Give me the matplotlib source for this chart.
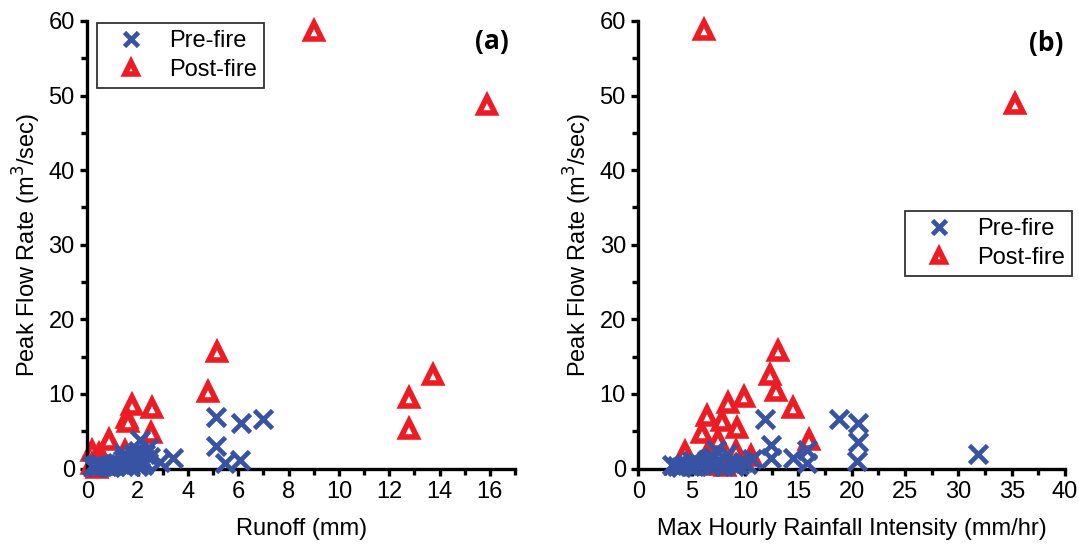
import numpy as np
import matplotlib.pyplot as plt
from matplotlib.ticker import MultipleLocator

plt.rcParams['font.family'] = ['Liberation Sans', 'DejaVu Sans']

BLUE = '#3953a4'
RED = '#ed1c24'

# Panel (a): runoff (mm) vs peak flow rate (m3/sec)
runoff_pre = [0.2, 0.3, 0.4, 0.5, 0.6, 0.8, 0.9, 1.0, 1.1, 1.2, 1.3, 1.4, 1.5,
              1.6, 1.7, 1.8, 1.9, 2.0, 2.1, 2.2, 2.3, 2.5, 1.45, 1.7, 2.0, 2.2,
              2.4, 2.9, 2.1, 3.4, 5.12, 5.12, 6.1, 7.0, 5.48, 6.05]
peak_pre_a = [0.3, 0.5, 0.2, 0.6, 0.3, 0.4, 0.2, 0.5, 0.3, 0.8, 0.6, 1.1, 1.5,
              0.9, 1.3, 1.9, 0.7, 2.3, 1.6, 1.0, 2.0, 1.5, 2.0, 0.4, 0.3, 0.5,
              2.7, 0.9, 3.8, 1.35, 6.85, 3.0, 6.1, 6.6, 0.8, 1.1]
runoff_post = [9.0, 15.9, 5.15, 4.78, 1.76, 2.57, 1.58, 1.62, 0.85, 2.52,
               12.8, 12.8, 13.76, 0.18, 0.45, 0.6, 1.5, 0.2, 0.35, 0.4]
peak_post_a = [58.7, 48.8, 15.6, 10.3, 8.5, 8.1, 6.8, 6.2, 3.8, 4.7,
               9.4, 5.3, 12.6, 2.3, 1.9, 1.4, 2.3, 0.6, 0.3, 0.1]

# Panel (b): max hourly rainfall intensity (mm/hr) vs peak flow rate
intensity_pre = [3.2, 3.6, 4.0, 4.4, 4.8, 5.2, 5.6, 6.0, 6.4, 6.8, 7.0, 7.3,
                 7.6, 8.0, 8.3, 8.6, 9.0, 9.4, 9.8, 10.2, 10.7, 11.86, 18.8,
                 20.6, 20.6, 20.45, 12.4, 12.4, 14.5, 15.8, 15.8, 31.8, 7.3,
                 6.6, 5.0]
peak_pre_b = [0.5, 0.3, 0.2, 0.6, 0.4, 0.3, 0.8, 0.5, 1.1, 0.3, 1.5, 0.6,
              0.9, 0.4, 1.9, 0.7, 0.3, 0.5, 0.9, 0.6, 1.3, 6.7, 6.6,
              6.1, 3.6, 1.0, 3.1, 1.45, 1.45, 2.5, 0.8, 1.9, 2.5,
              1.3, 1.0]
intensity_post = [6.18, 35.3, 13.1, 12.37, 12.9, 9.9, 8.44, 14.5, 6.44, 7.8,
                  5.93, 9.24, 7.47, 16.0, 4.4, 9.15, 6.5, 10.6, 6.8, 8.1]
peak_post_b = [58.8, 48.9, 15.7, 12.6, 10.4, 9.6, 8.75, 8.1, 7.0, 6.4,
               4.8, 5.4, 3.8, 3.8, 2.2, 2.3, 2.2, 1.7, 0.5, 0.4]


def style_axes(ax, xmax, xmajor, xminor):
    ax.set_xlim(0, xmax)
    ax.set_ylim(0, 60)
    for side in ['top', 'right']:
        ax.spines[side].set_visible(False)
    for side in ['left', 'bottom']:
        ax.spines[side].set_linewidth(2.4)
    ax.xaxis.set_major_locator(MultipleLocator(xmajor))
    ax.xaxis.set_minor_locator(MultipleLocator(xminor))
    ax.yaxis.set_major_locator(MultipleLocator(10))
    ax.yaxis.set_minor_locator(MultipleLocator(5))
    ax.tick_params(which='major', direction='out', length=5, width=2.4,
                   labelsize=17, pad=4)
    ax.tick_params(which='minor', direction='out', length=4, width=2.4)
    ax.set_ylabel('Peak Flow Rate (m$^3$/sec)', fontsize=17, labelpad=4)


def draw(ax, xpre, ypre, xpost, ypost):
    ax.plot(xpre, ypre, linestyle='none', marker='x', color=BLUE,
            markersize=12.5, markeredgewidth=3.4, label='Pre-fire', clip_on=False,
            zorder=3)
    ax.plot(xpost, ypost, linestyle='none', marker='^', markerfacecolor='white',
            markeredgecolor=RED, markersize=11, markeredgewidth=4,
            label='Post-fire', clip_on=False, zorder=2)


def add_legend(ax, anchor):
    leg = ax.legend(loc='upper left', bbox_to_anchor=anchor, fontsize=17,
                    frameon=True, fancybox=False, edgecolor='black',
                    handletextpad=0.45, borderpad=0.3, labelspacing=0.3,
                    handlelength=2.3, borderaxespad=0.0, markerscale=0.85)
    leg.get_frame().set_linewidth(1.3)
    return leg


fig = plt.figure(figsize=(10.79, 5.48), dpi=100)
ax1 = fig.add_axes([0.0809, 0.145, 0.3964, 0.8167])
ax2 = fig.add_axes([0.5916, 0.145, 0.3955, 0.8167])

draw(ax1, runoff_pre, peak_pre_a, runoff_post, peak_post_a)
style_axes(ax1, 17, 2, 1)
ax1.set_xlabel('Runoff (mm)', fontsize=17, labelpad=11)
ax1.text(0.985, 0.985, '(a)', transform=ax1.transAxes, fontsize=19,
         fontweight='bold', ha='right', va='top', family='Open Sans')
add_legend(ax1, (0.023, 0.995))

draw(ax2, intensity_pre, peak_pre_b, intensity_post, peak_post_b)
style_axes(ax2, 40, 5, 2.5)
ax2.set_xlabel('Max Hourly Rainfall Intensity (mm/hr)', fontsize=17, labelpad=11)
ax2.text(0.995, 0.98, '(b)', transform=ax2.transAxes, fontsize=19,
         fontweight='bold', ha='right', va='top', family='Open Sans')
add_legend(ax2, (0.625, 0.575))

fig.savefig('out.png', dpi=100)
